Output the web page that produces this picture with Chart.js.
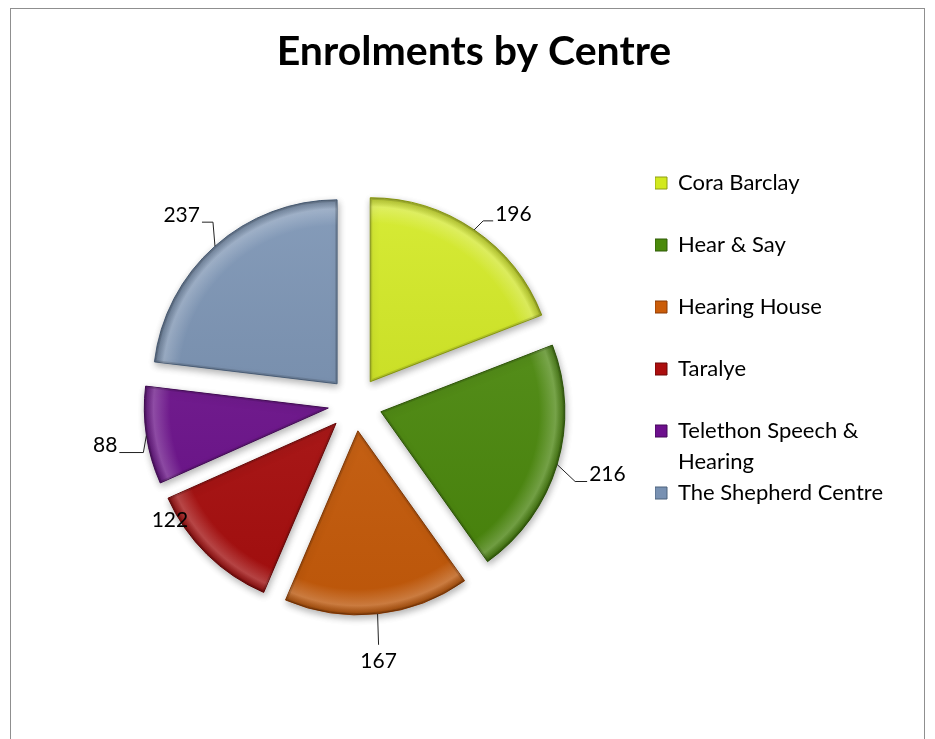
<!DOCTYPE html>
<html>
<head>
<meta charset="utf-8">
<script src="https://cdn.jsdelivr.net/npm/chart.js@4.4.1/dist/chart.umd.min.js"></script>
<style>
html, body { margin: 0; padding: 0; background: #ffffff; }
canvas { display: block; }
</style>
</head>
<body>
<canvas id="chart" width="935" height="739"></canvas>
<script>
// ---- data ----
const categories = ['Cora Barclay', 'Hear & Say', 'Hearing House', 'Taralye', 'Telethon Speech & Hearing', 'The Shepherd Centre'];
const enrolments = [196, 216, 167, 122, 88, 237];
const chartTitle = 'Enrolments by Centre';

// ---- style ----
const sliceColors = ['#D2E91F', '#4B8A0B', '#CB5D0A', '#AC0E0E', '#6D108D', '#7891B2'];
const edgeColors  = ['#8E9E12', '#2F5A06', '#8A3B05', '#6C0707', '#450859', '#4D627D'];
const EXPLODE = 27;
const FONT = 'Lato';
const LEGEND_SIZE = 22;
const LEGEND_WRAP = 225;
// leader-line layout relative to the point on each slice's outer edge
const labelLayout = [
  { elbow: [9, -9],   run: 10,  mode: 'side' },
  { elbow: [18, 17],  run: 12,  mode: 'side' },
  { elbow: [1, 31],   run: 0,   mode: 'below' },
  { elbow: [-37, -34], run: 0,  mode: 'free' },
  { elbow: [-3, 17],  run: -24, mode: 'side' },
  { elbow: [-2, -24], run: -11, mode: 'side' }
];

// ---- exploded, bevelled arcs ----
const baseArcDraw = Chart.ArcElement.prototype.draw;
Chart.ArcElement.prototype.draw = function (ctx) {
  const mid = (this.startAngle + this.endAngle) / 2;
  const dx = Math.cos(mid) * EXPLODE, dy = Math.sin(mid) * EXPLODE;
  ctx.save();
  ctx.translate(dx, dy);
  ctx.shadowColor = 'rgba(0,0,0,0.30)';
  ctx.shadowBlur = 7;
  ctx.shadowOffsetX = 1;
  ctx.shadowOffsetY = 3;
  baseArcDraw.call(this, ctx);
  ctx.shadowColor = 'rgba(0,0,0,0)';
  ctx.shadowBlur = 0; ctx.shadowOffsetX = 0; ctx.shadowOffsetY = 0;
  const x = this.x, y = this.y, R = this.outerRadius;
  ctx.beginPath();
  ctx.moveTo(x, y);
  ctx.arc(x, y, R, this.startAngle, this.endAngle);
  ctx.closePath();
  ctx.save();
  ctx.clip();
  const lg = ctx.createLinearGradient(0, y - R, 0, y + R);
  lg.addColorStop(0, 'rgba(255,255,255,0.10)');
  lg.addColorStop(1, 'rgba(0,0,0,0.08)');
  ctx.fillStyle = lg;
  ctx.fill();
  const rg = ctx.createRadialGradient(x, y, 0, x, y, R);
  rg.addColorStop(0, 'rgba(255,255,255,0)');
  rg.addColorStop(0.86, 'rgba(255,255,255,0)');
  rg.addColorStop(0.95, 'rgba(255,255,255,0.22)');
  rg.addColorStop(1, 'rgba(0,0,0,0.18)');
  ctx.fillStyle = rg;
  ctx.fill();
  ctx.lineJoin = 'round';
  ctx.lineWidth = 4;
  ctx.strokeStyle = 'rgba(0,0,0,0.12)';
  ctx.stroke();
  ctx.restore();
  ctx.restore();
};

function wrapText(ctx, text, maxW) {
  const words = text.split(' ');
  const lines = [];
  let cur = '';
  words.forEach(w => {
    const test = cur ? cur + ' ' + w : w;
    if (cur && ctx.measureText(test).width > maxW) { lines.push(cur); cur = w; }
    else cur = test;
  });
  if (cur) lines.push(cur);
  return lines;
}

// measure legend to reserve its width on the right
const mctx = document.createElement('canvas').getContext('2d');
mctx.font = LEGEND_SIZE + 'px ' + FONT;
const legendLines = categories.map(c => {
  const l = wrapText(mctx, c, LEGEND_WRAP);
  while (l.length < 2) l.push('');
  return l;
});
let maxTextW = 0;
legendLines.forEach(l => {
  const longest = l.reduce((a, b) => a.length > b.length ? a : b);
  maxTextW = Math.max(maxTextW, mctx.measureText(longest).width);
});
const legendWidth = 12 + LEGEND_SIZE / 2 + maxTextW + 10;
const padRight = Math.max(0, 935 - 655 - legendWidth);

const framePlugin = {
  id: 'frame',
  beforeDraw(chart) {
    const ctx = chart.ctx;
    ctx.save();
    ctx.fillStyle = '#ffffff';
    ctx.fillRect(0, 0, chart.width, chart.height);
    ctx.strokeStyle = '#8f8f8f';
    ctx.lineWidth = 1;
    ctx.strokeRect(10.5, 8.5, 914, 745);
    ctx.restore();
  }
};

const labelPlugin = {
  id: 'sliceLabels',
  afterDatasetsDraw(chart) {
    const ctx = chart.ctx;
    const meta = chart.getDatasetMeta(0);
    ctx.save();
    ctx.font = '21px ' + FONT;
    ctx.fillStyle = '#000';
    ctx.strokeStyle = '#222';
    ctx.lineWidth = 1;
    ctx.textBaseline = 'middle';
    meta.data.forEach((arc, i) => {
      const mid = (arc.startAngle + arc.endAngle) / 2;
      const r = arc.outerRadius + EXPLODE;
      const ox = arc.x + Math.cos(mid) * r;
      const oy = arc.y + Math.sin(mid) * r;
      const L = labelLayout[i];
      const ex = ox + L.elbow[0], ey = oy + L.elbow[1];
      const text = String(chart.data.datasets[0].data[i]);
      if (L.mode === 'free') {
        ctx.textAlign = 'center';
        ctx.fillText(text, ex, ey);
        return;
      }
      const endX = ex + L.run;
      ctx.beginPath();
      ctx.moveTo(ox, oy);
      ctx.lineTo(ex, ey);
      if (L.run) ctx.lineTo(endX, ey);
      ctx.stroke();
      if (L.mode === 'below') {
        ctx.textAlign = 'center';
        ctx.fillText(text, ex, ey + 16);
      } else if (L.run >= 0) {
        ctx.textAlign = 'left';
        ctx.fillText(text, endX + 2, ey - 7);
      } else {
        ctx.textAlign = 'right';
        ctx.fillText(text, endX - 2, ey - 7);
      }
    });
    ctx.restore();
  }
};

new Chart(document.getElementById('chart'), {
  type: 'pie',
  data: {
    labels: categories,
    datasets: [{
      data: enrolments,
      backgroundColor: sliceColors,
      borderColor: edgeColors,
      borderWidth: 1,
      radius: 184
    }]
  },
  options: {
    responsive: false,
    animation: false,
    devicePixelRatio: 1,
    events: [],
    layout: { padding: { left: 55, right: padRight, top: 0, bottom: 23 } },
    plugins: {
      title: {
        display: true,
        text: chartTitle,
        color: '#000',
        font: { family: FONT, size: 41, weight: 'bold', lineHeight: 1.2 },
        padding: { top: 27, bottom: 15.8 }
      },
      legend: {
        position: 'right',
        align: 'center',
        fullSize: true,
        labels: {
          color: '#000',
          font: { family: FONT, size: LEGEND_SIZE, lineHeight: '31px' },
          boxWidth: 12,
          boxHeight: 12,
          padding: 0,
          generateLabels() {
            return categories.map((c, i) => ({
              text: legendLines[i],
              fillStyle: sliceColors[i],
              strokeStyle: edgeColors[i],
              lineWidth: 1,
              fontColor: '#000',
              hidden: false,
              index: i
            }));
          }
        }
      },
      tooltip: { enabled: false }
    }
  },
  plugins: [framePlugin, labelPlugin]
});
</script>
</body>
</html>
